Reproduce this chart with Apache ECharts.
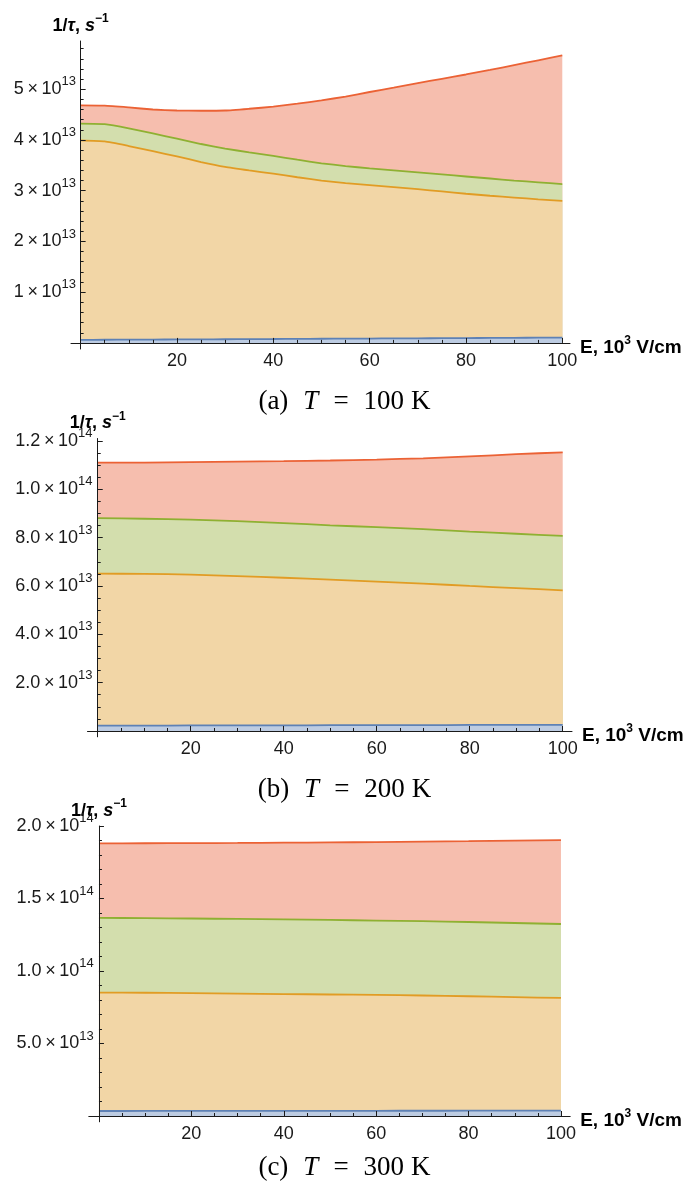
<!DOCTYPE html>
<html>
<head>
<meta charset="utf-8">
<script src="https://cdn.jsdelivr.net/npm/echarts@6/dist/echarts.min.js"></script>
<style>
html, body { margin: 0; padding: 0; background: #fff; }
#chart { width: 689px; height: 1187px; }
</style>
</head>
<body>
<div id="chart"></div>
<script>
// 1/tau in units of 1e13 s^-1, E in 1e3 V/cm
const eA = [0, 5, 10, 15, 20, 25, 30, 35, 40, 45, 50, 55, 60, 65, 70, 75, 80, 85, 90, 95, 100];
const redA = [4.68, 4.675, 4.64, 4.60, 4.58, 4.575, 4.58, 4.615, 4.655, 4.715, 4.78, 4.855, 4.945, 5.03, 5.12, 5.205, 5.29, 5.38, 5.475, 5.57, 5.665];
const greenA = [4.32, 4.31, 4.23, 4.13, 4.025, 3.92, 3.83, 3.755, 3.685, 3.61, 3.54, 3.485, 3.44, 3.40, 3.36, 3.32, 3.28, 3.24, 3.20, 3.165, 3.13];
const orangeA = [3.99, 3.97, 3.88, 3.78, 3.675, 3.565, 3.47, 3.40, 3.335, 3.265, 3.20, 3.15, 3.11, 3.07, 3.03, 2.985, 2.94, 2.90, 2.865, 2.83, 2.80];
const blueA = [0.060, 0.062, 0.064, 0.066, 0.068, 0.070, 0.072, 0.075, 0.077, 0.080, 0.082, 0.084, 0.086, 0.089, 0.091, 0.093, 0.095, 0.098, 0.100, 0.103, 0.105];

const eB = [0, 10, 20, 30, 40, 50, 60, 70, 80, 90, 100];
const redB = [11.10, 11.10, 11.12, 11.14, 11.16, 11.19, 11.23, 11.28, 11.36, 11.45, 11.53];
const greenB = [8.81, 8.78, 8.74, 8.68, 8.60, 8.51, 8.43, 8.35, 8.25, 8.16, 8.07];
const orangeB = [6.51, 6.50, 6.47, 6.41, 6.34, 6.26, 6.18, 6.10, 6.00, 5.91, 5.82];
const blueB = [0.22, 0.22, 0.23, 0.23, 0.23, 0.24, 0.24, 0.24, 0.25, 0.25, 0.25];

const eC = [0, 10, 20, 30, 40, 50, 60, 70, 80, 90, 100];
const redC = [18.80, 18.81, 18.82, 18.83, 18.85, 18.87, 18.89, 18.92, 18.95, 18.99, 19.03];
const greenC = [13.66, 13.65, 13.62, 13.59, 13.56, 13.52, 13.48, 13.44, 13.38, 13.31, 13.24];
const orangeC = [8.51, 8.50, 8.47, 8.44, 8.41, 8.38, 8.35, 8.31, 8.26, 8.20, 8.14];
const blueC = [0.345, 0.347, 0.35, 0.352, 0.355, 0.357, 0.36, 0.362, 0.365, 0.367, 0.37];

const xTicks = [20, 40, 60, 80, 100];
const xMinor = [5, 10, 15, 25, 30, 35, 45, 50, 55, 65, 70, 75, 85, 90, 95];
const yTicksA = [1, 2, 3, 4, 5];
const yTicksB = [2, 4, 6, 8, 10, 12];
const yTicksC = [5, 10, 15, 20];
const captions = [['(a)', 'T', '=', '100', 'K'], ['(b)', 'T', '=', '200', 'K'], ['(c)', 'T', '=', '300', 'K']];

function minorTicks(step, max, majors) {
    let out = [];
    for (let i = 1; i * step <= max + 1e-9; i++) {
        let v = +(i * step).toFixed(3);
        if (majors.indexOf(v) < 0) out.push(v);
    }
    return out;
}

const lineColors = ['#EB6235', '#8FB032', '#E19C24', '#5E81B5'];
const fillColors = ['#F6BEAE', '#D3DEAD', '#F2D6A6', '#BDCCE2'];
const ink = '#1a1a1a';

function labA(v) {
    return '{m|' + v + '\u2009×\u200910}{e|13}';
}
function labBC(v) {
    if (v < 10) return '{m|' + v.toFixed(1) + '\u2009×\u200910}{e|13}';
    return '{m|' + (v / 10).toFixed(1) + '\u2009×\u200910}{e|14}';
}

const supRich = {
    m: { fontSize: 18, lineHeight: 28, color: ink, fontFamily: 'Liberation Sans' },
    e: { fontSize: 13, lineHeight: 13, verticalAlign: 'top', color: ink, fontFamily: 'Liberation Sans' }
};
function nameRich(size) {
    return {
        b: { fontSize: size, lineHeight: 26, fontWeight: 'bold', color: '#000', fontFamily: 'Liberation Sans' },
        bi: { fontSize: size, lineHeight: 26, fontWeight: 'bold', fontStyle: 'italic', color: '#000', fontFamily: 'Liberation Sans' },
        s: { fontSize: 12, lineHeight: 12, verticalAlign: 'top', fontWeight: 'bold', color: '#000', fontFamily: 'Liberation Sans' }
    };
}
const capRich = {
    n: { fontSize: 27, fontWeight: 'normal', fontFamily: 'Liberation Serif', color: '#000' },
    i: { fontSize: 27, fontWeight: 'normal', fontFamily: 'Liberation Serif', fontStyle: 'italic', color: '#000', padding: [0, 0, 0, 15] },
    g: { fontSize: 27, fontWeight: 'normal', fontFamily: 'Liberation Serif', color: '#000', padding: [0, 0, 0, 15] },
    k: { fontSize: 27, fontWeight: 'normal', fontFamily: 'Liberation Serif', color: '#000', padding: [0, 0, 0, 7] }
};

const panels = [
    { grid: { left: 71, top: 41, width: 499, height: 308 }, xMin: -2, xMax: 101.6, yMin: -0.12, yMax: 5.95,
      yTicks: yTicksA, yMinor: minorTicks(0.2, 5.9, yTicksA), fmt: labA,
      e: eA, ys: [redA, greenA, orangeA, blueA], capTop: 388 },
    { grid: { left: 87.5, top: 438.5, width: 484.5, height: 298.3 }, xMin: -2.2, xMax: 102, yMin: -0.24, yMax: 12.1,
      yTicks: yTicksB, yMinor: minorTicks(0.5, 12, yTicksB), fmt: labBC,
      e: eB, ys: [redB, greenB, orangeB, blueB], capTop: 776 },
    { grid: { left: 88.8, top: 826, width: 481.4, height: 295.8 }, xMin: -2.2, xMax: 102, yMin: -0.4, yMax: 20.0,
      yTicks: yTicksC, yMinor: minorTicks(1, 20, yTicksC), fmt: labBC,
      e: eC, ys: [redC, greenC, orangeC, blueC], capTop: 1154 }
];

let grids = [], xAxes = [], yAxes = [], series = [], titles = [];
const n = panels.length;

panels.forEach((p, g) => {
    grids.push(Object.assign({ outerBoundsMode: 'none', containLabel: false }, p.grid));
    // main x axis
    xAxes[g] = {
        gridIndex: g, type: 'value', min: p.xMin, max: p.xMax, position: 'bottom', z: 5,
        axisLine: { onZero: true, onZeroAxisIndex: g, lineStyle: { color: ink, width: 1 } },
        axisTick: { inside: true, length: 5, customValues: xTicks, lineStyle: { color: ink } },
        axisLabel: { customValues: xTicks, margin: 3, fontSize: 18, color: ink, fontFamily: 'Liberation Sans' },
        splitLine: { show: false },
        name: '{b|E, 10}{s|3}{b| V/cm}', nameLocation: 'end', nameGap: 10, nameMoveOverlap: false,
        nameTextStyle: { align: 'left', verticalAlign: 'middle', padding: [10, 0, 0, 0], rich: nameRich(19) }
    };
    // minor x ticks
    xAxes[g + n] = {
        gridIndex: g, type: 'value', min: p.xMin, max: p.xMax, position: 'bottom', z: 5,
        axisLine: { show: false, onZero: true, onZeroAxisIndex: g + n },
        axisTick: { inside: true, length: 3, customValues: xMinor, lineStyle: { color: ink } },
        axisLabel: { show: false }, splitLine: { show: false }
    };
    yAxes[g] = {
        gridIndex: g, type: 'value', min: p.yMin, max: p.yMax, position: 'left', z: 5,
        axisLine: { onZero: true, onZeroAxisIndex: g, lineStyle: { color: ink, width: 1 } },
        axisTick: { inside: true, length: 5, customValues: p.yTicks, lineStyle: { color: ink } },
        axisLabel: { customValues: p.yTicks, margin: -5, formatter: p.fmt, rich: supRich },
        splitLine: { show: false },
        name: '{b|1/}{bi|τ}{b|, }{bi|s}{s|−1}', nameLocation: 'end', nameGap: 2, nameMoveOverlap: false,
        nameTextStyle: { align: 'center', verticalAlign: 'bottom', rich: nameRich(18) }
    };
    yAxes[g + n] = {
        gridIndex: g, type: 'value', min: p.yMin, max: p.yMax, position: 'left', z: 5,
        axisLine: { show: false, onZero: true, onZeroAxisIndex: g + n },
        axisTick: { inside: true, length: 3, customValues: p.yMinor, lineStyle: { color: ink } },
        axisLabel: { show: false }, splitLine: { show: false }
    };
    p.ys.forEach((ys, k) => {
        series.push({
            type: 'line', xAxisIndex: g, yAxisIndex: g, silent: true,
            showSymbol: false, smooth: 0.15,
            lineStyle: { color: lineColors[k], width: 1.8 },
            areaStyle: { color: fillColors[k], opacity: 1, origin: 'auto' },
            data: p.e.map((x, i) => [x, ys[i]])
        });
    });
    const c = captions[g];
    titles.push({
        text: '{n|' + c[0] + '}{i|' + c[1] + '}{g|' + c[2] + '}{g|' + c[3] + '}{k|' + c[4] + '}',
        left: 'center', top: p.capTop, padding: 0,
        textStyle: { fontWeight: 'normal', rich: capRich }
    });
});

const chart = echarts.init(document.getElementById('chart'));
chart.setOption({
    animation: false,
    backgroundColor: '#fff',
    title: titles,
    grid: grids,
    xAxis: xAxes,
    yAxis: yAxes,
    series: series
});
window.addEventListener('resize', () => {
    chart.resize();
});
</script>
</body>
</html>
